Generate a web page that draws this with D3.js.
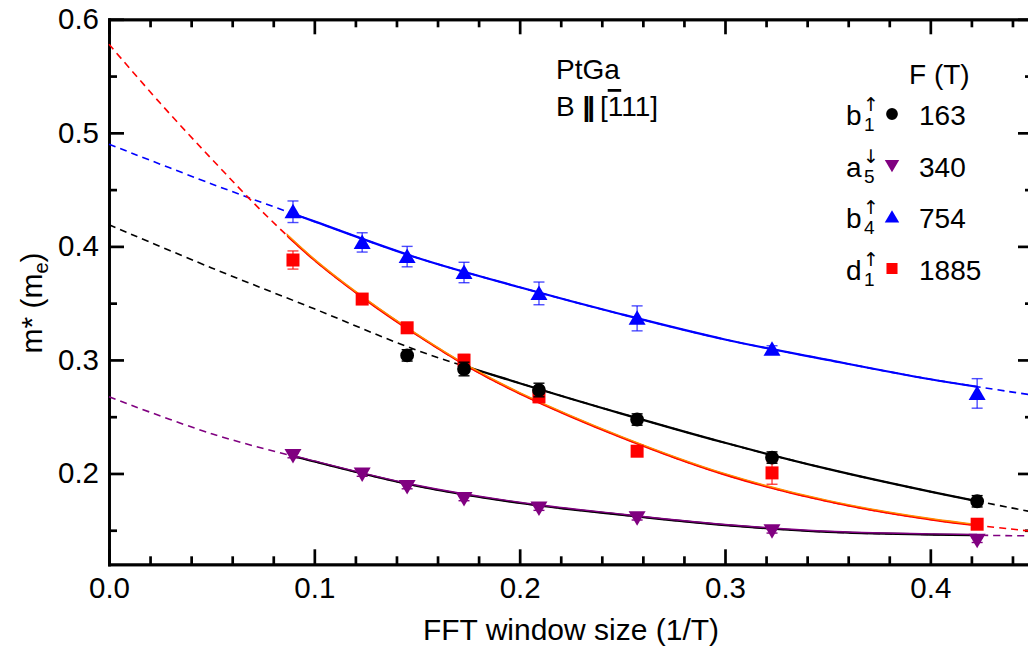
<!DOCTYPE html>
<html>
<head>
<meta charset="utf-8">
<title>PtGa m* vs FFT window</title>
<script src="https://cdn.jsdelivr.net/npm/d3@7"></script>
<style>
  body { margin: 0; background: #fff; }
  svg { display: block; font-family: "Liberation Sans", Arial, sans-serif; }
  .axis text { font-size: 29.5px; fill: #000; }
  .axis path, .axis line { stroke: #000; stroke-width: 2.7px; }
</style>
</head>
<body>
<svg id="chart" width="1028" height="648"></svg>
<script>
// measured points (window size in 1/T)
var windowSize = [0.0896, 0.1233, 0.1452, 0.1729, 0.2094, 0.2572, 0.3229, 0.4228];

var mB1 = [null, null, 0.304, 0.292, 0.2735, 0.2475, 0.214, 0.1755];
var errB1 = [0, 0, 0.005, 0.006, 0.006, 0.005, 0.005, 0.005];
var mA5 = [0.2158, 0.1995, 0.1885, 0.178, 0.1695, 0.161, 0.1495, 0.1412];
var errA5 = [0.002, 0.002, 0.002, 0.002, 0.002, 0.002, 0.002, 0.002];
var mB4 = [0.4305, 0.4035, 0.391, 0.377, 0.3586, 0.3366, 0.3095, 0.2705];
var errB4 = [0.0095, 0.0085, 0.009, 0.009, 0.01, 0.011, 0.003, 0.013];
var mD1 = [0.388, 0.3536, 0.3283, 0.2998, 0.2675, 0.2196, 0.2005, 0.1553];
var errD1 = [0.008, 0.003, 0.003, 0.005, 0.005, 0.002, 0.01, 0.002];

// fit curves
var fitX = [0, 0.05, 0.1, 0.15, 0.2, 0.25, 0.3, 0.35, 0.4, 0.45];
var fitB1 = [0.419, 0.381, 0.345, 0.3085, 0.2795, 0.2525, 0.227, 0.204, 0.184, 0.166];
var fitA5 = [0.2675, 0.235, 0.2105, 0.189, 0.174, 0.1635, 0.1545, 0.1485, 0.1462, 0.145];
var fitB4 = [0.490, 0.455, 0.422, 0.390, 0.364, 0.340, 0.318, 0.300, 0.283, 0.269];
var fitXD1 = [0, 0.025, 0.05, 0.075, 0.1, 0.125, 0.15, 0.175, 0.2, 0.25, 0.3, 0.35, 0.4, 0.45];
var fitD1 = [0.578, 0.526, 0.477, 0.430, 0.388, 0.353, 0.322, 0.294, 0.2705, 0.2315, 0.199, 0.1755, 0.1595, 0.149];

var xMajor = [0, 0.1, 0.2, 0.3, 0.4];
var yMajor = [0.2, 0.3, 0.4, 0.5, 0.6];

var legendBase = ['b', 'a', 'b', 'd'];
var legendSub = ['1', '5', '4', '1'];
var legendSpin = ['\u2191', '\u2193', '\u2191', '\u2191'];
var freqs = ['163', '340', '754', '1885'];

(function() {
var svg = d3.select('#chart');
var left = 109, right = 1033, plotTop = 19.3, bottom = 564.3;

var x = d3.scaleLinear().domain([0, 0.45]).range([left, right]);
var y = d3.scaleLinear().domain([0.12, 0.6]).range([bottom, plotTop]);

var xMinor = d3.range(0.02, 0.45, 0.02).filter(function(v) {
    return Math.abs(v * 10 - Math.round(v * 10)) > 1e-6;
});
var yMinor = [0.15, 0.25, 0.35, 0.45, 0.55];

// axes, ticks pointing inward on all four sides
function drawAxis(axisFn, scale, pos, major, minor, labels, pad) {
    var g = svg.append('g').attr('class', 'axis').attr('transform', pos);
    g.call(axisFn(scale).tickValues(minor).tickSize(-8).tickSizeOuter(0).tickFormat(''));
    g.append('g').call(axisFn(scale).tickValues(major).tickSize(-15).tickSizeOuter(0)
        .tickPadding(pad).tickFormat(labels ? d3.format('.1f') : ''));
    g.selectAll('.domain').attr('stroke-linecap', 'square');
    return g;
}
drawAxis(d3.axisBottom, x, 'translate(0,' + bottom + ')', xMajor, xMinor, true, 13);
drawAxis(d3.axisTop, x, 'translate(0,' + plotTop + ')', xMajor, xMinor, false, 0);
drawAxis(d3.axisLeft, y, 'translate(' + left + ',0)', yMajor, yMinor, true, 10);
drawAxis(d3.axisRight, y, 'translate(' + right + ',0)', yMajor, yMinor, false, 0);

// fit curves: dashed everywhere, solid over measured range
var plot = svg.append('g');
var defs = svg.append('defs');

function fitCurve(xs, ys, color, x0, x1, id, overColor, overDy) {
    var line = d3.line()
        .x(function(d, i) { return x(xs[i]); })
        .y(function(d) { return y(d); })
        .curve(d3.curveCatmullRom.alpha(0.5));
    defs.append('clipPath').attr('id', id)
        .append('rect').attr('x', x(x0)).attr('y', 0)
        .attr('width', x(x1) - x(x0)).attr('height', 648);
    plot.append('path').attr('d', line(ys)).attr('fill', 'none')
        .attr('stroke', overColor && color === '#000000' ? overColor : color)
        .attr('stroke-width', 1.6)
        .attr('stroke-dasharray', '7,5');
    var solid = plot.append('g').attr('clip-path', 'url(#' + id + ')');
    solid.append('path').attr('d', line(ys)).attr('fill', 'none')
        .attr('stroke', color).attr('stroke-width', 2.2);
    if (overColor) {
        solid.append('path').attr('d', line(ys)).attr('fill', 'none')
            .attr('transform', 'translate(0,' + overDy + ')')
            .attr('stroke', overColor).attr('stroke-width', 1.4);
    }
}
fitCurve(fitX, fitB4, '#0000ff', windowSize[0], windowSize[7], 'cB4');
fitCurve(fitX, fitB1, '#000000', windowSize[3], windowSize[7], 'cB1');
fitCurve(fitX, fitA5, '#000000', windowSize[0], windowSize[7], 'cA5', '#800080', -0.7);
fitCurve(fitXD1, fitD1, '#ff0000', windowSize[0] - 0.003, windowSize[7], 'cD1', '#ff8c00', -0.9);

// marker shapes
function markerPath(kind) {
    if (kind === 'circle') return d3.symbol().type(d3.symbolCircle).size(150)();
    if (kind === 'square') return 'M-6.5,-6.5H6.5V6.5H-6.5Z';
    if (kind === 'up') return 'M0,-8L8.5,6.5L-8.5,6.5Z';
    return 'M0,8L8.5,-6.5L-8.5,-6.5Z';
}

function series(vals, errs, color, errColor, kind) {
    var pts = vals.map(function(v, i) { return { x: windowSize[i], y: v, e: errs[i] }; })
        .filter(function(d) { return d.y !== null; });
    var g = svg.append('g');
    var eb = g.selectAll('g.err').data(pts).enter().append('g')
        .attr('stroke', errColor).attr('stroke-width', 1.4).attr('fill', 'none');
    eb.append('line')
        .attr('x1', function(d) { return x(d.x); }).attr('x2', function(d) { return x(d.x); })
        .attr('y1', function(d) { return y(d.y + d.e); }).attr('y2', function(d) { return y(d.y - d.e); });
    eb.append('line')
        .attr('x1', function(d) { return x(d.x) - 5.5; }).attr('x2', function(d) { return x(d.x) + 5.5; })
        .attr('y1', function(d) { return y(d.y + d.e); }).attr('y2', function(d) { return y(d.y + d.e); });
    eb.append('line')
        .attr('x1', function(d) { return x(d.x) - 5.5; }).attr('x2', function(d) { return x(d.x) + 5.5; })
        .attr('y1', function(d) { return y(d.y - d.e); }).attr('y2', function(d) { return y(d.y - d.e); });
    g.selectAll('path.m').data(pts).enter().append('path')
        .attr('d', markerPath(kind))
        .attr('transform', function(d) { return 'translate(' + x(d.x) + ',' + y(d.y) + ')'; })
        .attr('fill', color);
}
series(mD1, errD1, '#ff0000', 'rgba(255,0,0,0.75)', 'square');
series(mB1, errB1, '#000000', '#000000', 'circle');
series(mA5, errA5, '#800080', '#800080', 'down');
series(mB4, errB4, '#0000ff', 'rgba(0,0,255,0.7)', 'up');

// axis titles
svg.append('text').attr('x', 571).attr('y', 640)
    .attr('text-anchor', 'middle').attr('font-size', 30).text('FFT window size (1/T)');
var yt = svg.append('text').attr('transform', 'translate(42,303) rotate(-90)')
    .attr('text-anchor', 'middle').attr('font-size', 30);
yt.append('tspan').text('m* (m');
yt.append('tspan').attr('font-size', 20).attr('dy', 6).text('e');
yt.append('tspan').attr('dy', -6).text(')');

// annotation
svg.append('text').attr('x', 556).attr('y', 79).attr('font-size', 28).text('PtGa');
var bt = svg.append('text').attr('x', 556).attr('y', 116).attr('font-size', 28);
bt.append('tspan').text('B ');
bt.append('tspan').attr('font-weight', 'bold').attr('letter-spacing', -3).text('||');
bt.append('tspan').text(' [');
bt.append('tspan').attr('text-decoration', 'overline').text('1');
bt.append('tspan').text('11]');

// legend
svg.append('text').attr('x', 909).attr('y', 84).attr('font-size', 28).text('F (T)');
var legendKinds = ['circle', 'down', 'up', 'square'];
var legendColors = ['#000000', '#800080', '#0000ff', '#ff0000'];
var lg = svg.selectAll('g.leg').data(freqs).enter().append('g')
    .attr('transform', function(d, i) { return 'translate(0,' + (125 + i * 51.5) + ')'; });
lg.append('text').attr('x', 846).attr('y', 0).attr('font-size', 28)
    .text(function(d, i) { return legendBase[i]; });
lg.append('text').attr('x', 864).attr('y', 6).attr('font-size', 19)
    .text(function(d, i) { return legendSub[i]; });
lg.append('text').attr('x', 863).attr('y', -14).attr('font-size', 19)
    .attr('font-family', 'DejaVu Sans')
    .text(function(d, i) { return legendSpin[i]; });
lg.append('path').attr('d', function(d, i) { return markerPath(legendKinds[i]); })
    .attr('transform', 'translate(892,-11) scale(0.85)')
    .attr('fill', function(d, i) { return legendColors[i]; });
lg.append('text').attr('x', 919).attr('y', 0).attr('font-size', 28)
    .text(function(d) { return d; });
})();
</script>
</body>
</html>
